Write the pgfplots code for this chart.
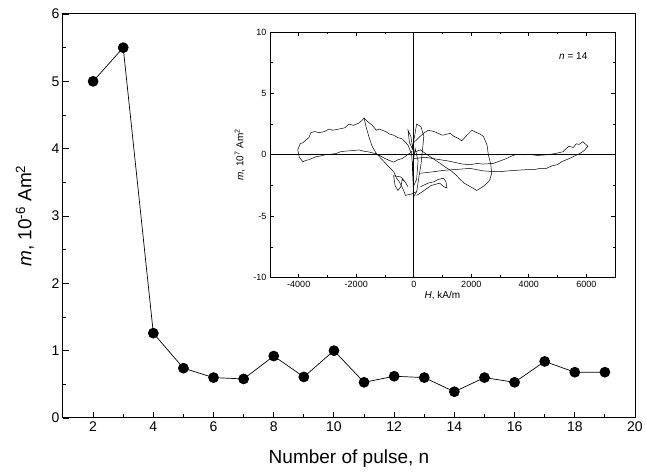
\documentclass[border=0pt]{standalone}
\usepackage{pgfplots}
\pgfplotsset{compat=1.18}
\usepackage{fontspec}
\setmainfont{Liberation Sans}
\begin{document}
\begin{tikzpicture}[x=1pt,y=1pt]
\path[use as bounding box] (0,0) rectangle (646,476);
\begin{axis}[
  at={(63pt,58pt)}, anchor=south west,
  width=572pt, height=404pt, scale only axis,
  xmin=1, xmax=20, ymin=0, ymax=6,
  xtick={2,4,...,20}, minor xtick={3,5,...,19},
  ytick={0,1,...,6}, minor ytick={0.5,1.5,...,5.5},
  xtick pos=left, ytick pos=left, tick align=inside,
  major tick length=6pt, minor tick length=3.5pt,
  axis line style={line width=1pt},
  every tick/.style={black, line width=0.9pt},
  /pgf/number format/assume math mode=true,
  tick label style={font=\fontsize{14}{16}\selectfont},
  xlabel={Number of pulse, n},
  ylabel={\textit{m}, 10\textsuperscript{-6} Am\textsuperscript{2}},
  xlabel style={font=\fontsize{19}{22}\selectfont, yshift=-11pt},
  ylabel style={font=\fontsize{19}{22}\selectfont, yshift=11pt},
  clip=false,
]
\addplot[black, line width=0.7pt, mark=*, mark size=5pt] coordinates {
(2,5.0) (3,5.5) (4,1.26) (5,0.74) (6,0.60) (7,0.58) (8,0.92) (9,0.61) (10,1.0)
(11,0.53) (12,0.62) (13,0.60) (14,0.39) (15,0.60) (16,0.53) (17,0.84) (18,0.68) (19,0.68)
};
\end{axis}
\begin{axis}[
  at={(270pt,198.3pt)}, anchor=south west,
  width=345pt, height=245.7pt, scale only axis,
  xmin=-5000, xmax=7000, ymin=-10, ymax=10,
  xtick={-4000,-2000,...,6000}, minor xtick={-3000,-1000,...,5000},
  ytick={-10,-5,...,10}, minor ytick={-7.5,-2.5,...,7.5},
  tick align=inside,
  major tick length=4pt, minor tick length=2.5pt,
  axis line style={line width=0.8pt},
  every tick/.style={black, line width=0.7pt},
  /pgf/number format/assume math mode=true,
  /pgf/number format/set thousands separator={},
  tick label style={font=\fontsize{9}{10}\selectfont},
  xlabel={\textit{H}, kA/m},
  ylabel={\textit{m}, 10\textsuperscript{7} Am\textsuperscript{2}},
  label style={font=\fontsize{10}{12}\selectfont},
  ylabel style={yshift=2pt},
  xlabel style={yshift=3pt},
  extra x ticks={0}, extra x tick labels={},
  extra x tick style={grid=major, major grid style={black, line width=0.8pt}},
  extra y ticks={0}, extra y tick labels={},
  extra y tick style={grid=major, major grid style={black, line width=0.8pt}},
]
\node[font=\fontsize{10}{12}\selectfont, anchor=north east] at (axis description cs:0.93,0.93) {\textit{n} = 14};
% left big loop
\addplot[black, line width=0.5pt] coordinates {
(-100,0.2) (-200,0.8) (-400,1.3) (-550,1.4) (-700,1.6) (-850,1.7) (-980,1.9) (-1200,2.1) (-1300,2.0) (-1440,2.4) (-1600,2.7) (-1730,3.0)
(-1800,2.8) (-1900,2.6) (-2100,2.4) (-2250,2.5) (-2400,2.2) (-2600,2.1) (-2823,2.0) (-2950,2.1) (-3100,1.9) (-3300,1.8) (-3450,1.9) (-3575,1.8)
(-3650,1.4) (-3700,1.3) (-3850,1.0) (-3950,0.9) (-4035,0.4) (-3980,-0.2) (-3860,-0.56) (-3750,-0.45) (-3650,-0.4) (-3400,-0.15)
(-3250,-0.1) (-3100,0.0) (-2900,0.05) (-2710,0.1) (-2550,0.25) (-2400,0.3) (-2100,0.35) (-1900,0.4) (-1750,0.3) (-1600,0.25)
(-1325,0.1) (-1150,-0.1) (-1000,-0.3) (-850,-0.45) (-700,-0.6) (-550,-0.4) (-400,-0.3) (-100,0.2)
};
% diamond from peak down
\addplot[black, line width=0.5pt] coordinates {
(-1730,3.0) (-1650,2.2) (-1550,1.4) (-1440,0.66) (-1300,0.1) (-1095,-0.4) (-900,-0.9) (-690,-1.4)
(-600,-1.9) (-500,-2.2) (-350,-2.9) (-290,-3.3) (-100,-3.2) (100,-3.0)
};
% right upper loop
\addplot[black, line width=0.5pt] coordinates {
(0,1.0) (335,1.75) (500,2.0) (700,1.9) (850,1.75) (1000,1.6) (1270,1.75) (1400,1.5) (1500,1.4) (1674,1.15)
(1850,1.6) (2020,2.0) (2200,1.8) (2300,1.7) (2422,1.5) (2550,0.8) (2595,0) (2680,-0.8) (2712,-1.5) (2650,-2.0)
(2600,-2.2) (2400,-2.6) (2193,-2.9) (2050,-2.7) (1900,-2.5) (1750,-2.3) (1616,-2.0) (1450,-1.6) (1300,-1.3)
(1100,-1.0) (924,-0.7) (600,-0.2) (230,0.4) (0,0.2)
};
% right long tail loop
\addplot[black, line width=0.5pt] coordinates {
(0,-0.3) (400,-0.2) (924,-0.4) (1200,-0.5) (1400,-0.6) (1700,-0.75) (1962,-0.8) (2200,-0.7) (2400,-0.75) (2768,-0.7)
(3000,-0.5) (3230,-0.3) (3400,-0.1) (3577,0.05) (3800,0.0) (4000,0.05) (4300,-0.05) (4616,0.0) (4900,0.1) (5190,0.25)
(5300,0.5) (5400,0.7) (5550,0.6) (5654,0.9) (5750,0.85) (5882,1.07) (6055,0.7) (5950,0.4) (5900,0.3) (5768,0.1)
(5500,-0.2) (5307,-0.4) (5150,-0.55) (5000,-0.8) (4800,-0.9) (4616,-1.1) (4400,-1.1) (4200,-1.2) (3950,-1.2)
(3692,-1.24) (3300,-1.3) (3000,-1.37) (2700,-1.35) (2400,-1.3) (1962,-1.1) (1700,-1.15) (1400,-1.2) (1100,-1.25)
(924,-1.3) (600,-1.4) (230,-1.5)
};
% small lower right loop
\addplot[black, line width=0.5pt] coordinates {
(230,-2.6) (500,-2.3) (692,-2.2) (850,-2.0) (1038,-1.9) (1120,-2.2) (1155,-2.7) (1050,-2.6) (900,-2.3) (750,-2.4) (600,-2.5) (300,-3.0) (100,-3.3)
};
% small lower left loop
\addplot[black, line width=0.5pt] coordinates {
(-300,-2.2) (-450,-1.8) (-700,-1.7) (-650,-2.5) (-550,-2.9) (-450,-2.6) (-400,-2.0) (-300,-2.2) (-200,-2.6)
};
% spikes near origin
\addplot[black, line width=0.5pt] coordinates {
(0,0) (-100,1.5) (-200,2.0) (-150,1.0) (-50,0.5) (50,1.8) (100,2.5) (250,2.3) (350,1.5) (300,0.3) (250,-0.8) (200,-1.5)
(100,-3.0) (0,-3.4) (-50,-1.0) (50,0.5) (150,-0.5) (100,-2.0) (0,-2.5) (-80,0.3)
};
\end{axis}
\end{tikzpicture}
\end{document}
